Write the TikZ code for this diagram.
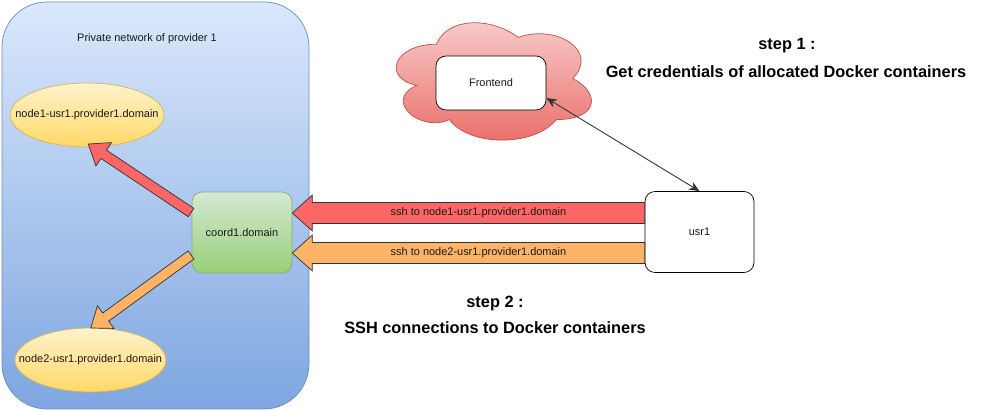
\documentclass[tikz,border=0pt]{standalone}
\usepackage{fontspec}
\setmainfont{Liberation Sans}
\usetikzlibrary{calc,arrows.meta,shapes.geometric}
\definecolor{netTop}{HTML}{DAE8FC}
\definecolor{netBot}{HTML}{7EA6E0}
\definecolor{netLine}{HTML}{6C8EBF}
\definecolor{ylTop}{HTML}{FFF2CC}
\definecolor{ylBot}{HTML}{FFD966}
\definecolor{ylLine}{HTML}{D6B656}
\definecolor{grTop}{HTML}{D5E8D4}
\definecolor{grBot}{HTML}{97D077}
\definecolor{grLine}{HTML}{82B366}
\definecolor{rdTop}{HTML}{F8CECC}
\definecolor{rdBot}{HTML}{EA6B66}
\definecolor{rdLine}{HTML}{B85450}
\definecolor{redArr}{HTML}{FF6666}
\definecolor{orgArr}{HTML}{FFB366}
\definecolor{txt}{HTML}{1A1A1A}
\newcommand\smallfont{\fontsize{6.24pt}{7.5pt}\selectfont}
\newcommand\bigfont{\fontsize{9.3pt}{11pt}\selectfont\bfseries}
\newcommand\fatarr[6]{%
  \coordinate (fb) at ($(#2)!#5!(#1)$);
  \path[#6] ($(#1)!#3!90:(#2)$) -- ($(fb)!#3!90:(#2)$) -- ($(fb)!#4!90:(#2)$) -- (#2)
    -- ($(fb)!#4!-90:(#2)$) -- ($(fb)!#3!-90:(#2)$) -- ($(#1)!#3!-90:(#2)$) -- cycle;
}
\begin{document}
\begin{tikzpicture}[x=0.02cm,y=-0.02cm,
  every node/.style={text=txt, font=\smallfont},
  netbox/.style={draw=netLine, top color=netTop, bottom color=netBot, rounded corners=0.9cm},
  ellnode/.style={ellipse, draw=ylLine, top color=ylTop, bottom color=ylBot, minimum width=#1, minimum height=1.28cm, inner sep=0pt},
  coordbox/.style={draw=grLine, top color=grTop, bottom color=grBot, rounded corners=0.2cm, minimum width=2cm, minimum height=1.62cm},
  whitebox/.style={draw=black, fill=white, rounded corners=0.2cm},
  redfat/.style={fill=redArr, draw=black!80, line width=0.4pt},
  orgfat/.style={fill=orgArr, draw=black!80, line width=0.4pt},
  steptext/.style={font=\bigfont, text=black}
]
\useasboundingbox (0,0) rectangle (1000,411);
% private network
\path[netbox] (2,2) rectangle (309,409);
\node (title) at (147,39) {Private network of provider 1};
% ellipses
\node[ellnode=3.08cm] (n1) at (87,115) {};
\node (n1t) at (n1.center) {node1-usr1.provider1.domain};
\node[ellnode=3.02cm] (n2) at (90.5,360) {};
\node (n2t) at (n2.center) {node2-usr1.provider1.domain};
% coord box
\node[coordbox] (coord) at (242,232.5) {coord1.domain};
% cloud
\begin{scope}[shift={(382,10)}, x=4.36cm, y=-2.74cm]
\path[draw=rdLine, top color=rdTop, bottom color=rdBot]
  (0.25,0.25) .. controls (0.05,0.25) and (0,0.5) .. (0.16,0.55)
  .. controls (0,0.66) and (0.18,0.9) .. (0.31,0.8)
  .. controls (0.4,1) and (0.7,1) .. (0.8,0.8)
  .. controls (1,0.8) and (1,0.6) .. (0.875,0.5)
  .. controls (1,0.3) and (0.8,0.1) .. (0.625,0.2)
  .. controls (0.5,0.05) and (0.3,0.05) .. (0.25,0.25) -- cycle;
\end{scope}
\node[whitebox, minimum width=2.2cm, minimum height=1.08cm] (fe) at (491,83) {Frontend};
% usr1
\node[whitebox, minimum width=2.18cm, minimum height=1.62cm] (usr) at (699.5,232) {usr1};
% double arrow
\coordinate (feC) at ($(fe.east)+(0,15)$);
\draw[black!80, line width=0.5pt, {Stealth[length=6pt,width=5pt]}-{Stealth[length=6pt,width=5pt]}] (feC) -- (usr.north);
% horizontal fat arrows
\coordinate (r1s) at ($(usr.west)+(0,-19)$);
\coordinate (r1t) at ($(coord.east)+(0,-19.5)$);
\coordinate (r2s) at ($(usr.west)+(0,21)$);
\coordinate (r2t) at ($(coord.east)+(0,20.5)$);
\fatarr{r1s}{r1t}{0.21cm}{0.36cm}{0.4cm}{redfat}
\fatarr{r2s}{r2t}{0.21cm}{0.36cm}{0.4cm}{orgfat}
\node (l1) at ($(r1s)!0.5!(r1t)+(10,0)$) {ssh to node1-usr1.provider1.domain};
\node (l2) at ($(r2s)!0.5!(r2t)+(10,0)$) {ssh to node2-usr1.provider1.domain};
% diagonal fat arrows
\coordinate (d1s) at (191,212.5);
\coordinate (d1t) at (88.3,144);
\coordinate (d2s) at (191,255);
\coordinate (d2t) at (90.7,328);
\fatarr{d1s}{d1t}{0.1cm}{0.28cm}{0.37cm}{redfat}
\fatarr{d2s}{d2t}{0.1cm}{0.28cm}{0.37cm}{orgfat}
% step texts
\node[steptext] (s1a) at (787,46) {step 1 :};
\node[steptext] (s1b) at (786,72) {Get credentials of allocated Docker containers};
\node[steptext] (s2a) at (495,303) {step 2 :};
\node[steptext] (s2b) at (495,328) {SSH connections to Docker containers};
\end{tikzpicture}
\end{document}
